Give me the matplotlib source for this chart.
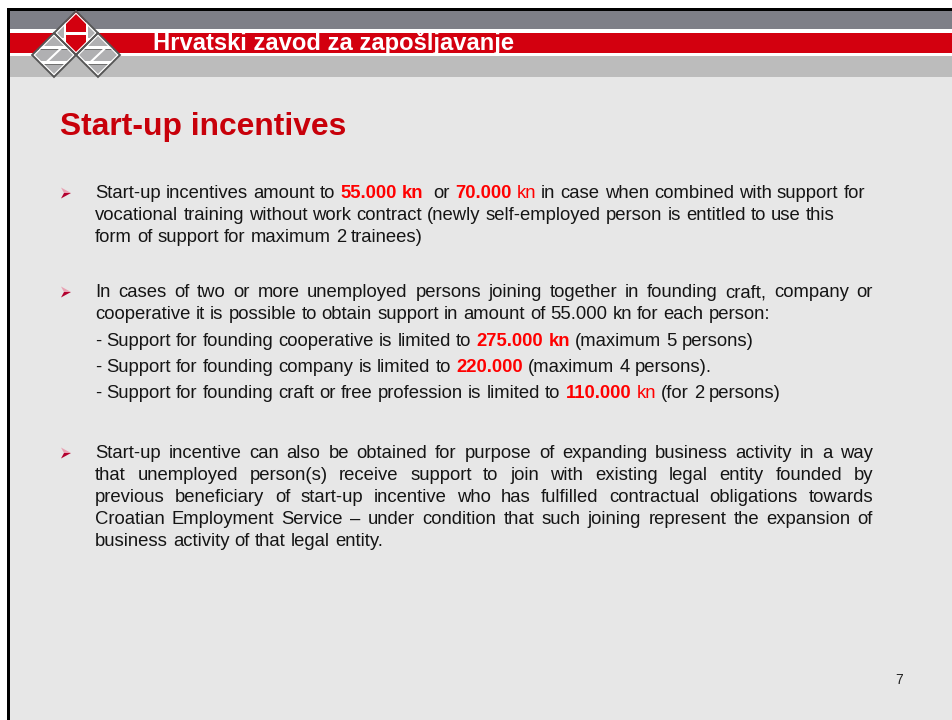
import re
import matplotlib
matplotlib.use("Agg")
import matplotlib.pyplot as plt
from matplotlib.patches import Polygon, Rectangle

# ---------------- content ----------------
header_text = "Hrvatski zavod za zapošljavanje"
title_text = "Start-up incentives"
page_number = "7"

# style codes: "n" normal black, "b" bold red, "r" normal red
bullet1_lines = [
    [("Start-up incentives amount to ", "n"), ("55.000 kn", "b"), ("  or ", "n"),
     ("70.000", "b"), (" kn", "r"), (" in case when combined with support for", "n")],
    [("vocational training without work contract (newly self-employed person is entitled to use this", "n")],
    [("form of support for maximum 2 trainees)", "n")],
]
bullet2_lines = [
    [("In cases of two or more unemployed persons joining together in founding craft, company or", "n")],
    [("cooperative it is possible to obtain support in amount of 55.000 kn for each person:", "n")],
]
bullet2_sub_lines = [
    [("- Support for founding cooperative is limited to ", "n"), ("275.000 kn", "b"),
     (" (maximum 5 persons)", "n")],
    [("- Support for founding company is limited to ", "n"), ("220.000", "b"),
     (" (maximum 4 persons).", "n")],
    [("- Support for founding craft or free profession is limited to ", "n"), ("110.000", "b"),
     (" kn", "r"), (" (for 2 persons)", "n")],
]
bullet3_lines = [
    [("Start-up incentive can also be obtained for purpose of expanding business activity in a way", "n")],
    [("that unemployed person(s) receive support to join with existing legal entity founded by", "n")],
    [("previous beneficiary of start-up incentive who has fulfilled contractual obligations towards", "n")],
    [("Croatian Employment Service \u2013 under condition that such joining represent the expansion of", "n")],
    [("business activity of that legal entity.", "n")],
]

# ---------------- figure ----------------
W, H = 952, 720
fig = plt.figure(figsize=(W / 100, H / 100), dpi=100)
fig.patch.set_facecolor("white")
ax = fig.add_axes([0, 0, 1, 1])
ax.set_xlim(0, W)
ax.set_ylim(H, 0)
ax.axis("off")

FONT = "Liberation Sans"
BLACK = "#151515"
RED = "#ff0000"

# slide background + border
ax.add_patch(Rectangle((7, 8), W - 7, H - 8, facecolor="black", edgecolor="none", zorder=0))
ax.add_patch(Rectangle((10, 11), W - 10, H - 11, facecolor="#e7e7e7", edgecolor="none", zorder=1))
# header bands
ax.add_patch(Rectangle((10, 11), W - 10, 18, facecolor="#7e7f87", edgecolor="none", zorder=2))
ax.add_patch(Rectangle((10, 29), W - 10, 3.5, facecolor="white", edgecolor="none", zorder=2))
ax.add_patch(Rectangle((10, 32.5), W - 10, 20, facecolor="#d3000f", edgecolor="none", zorder=2))
ax.add_patch(Rectangle((10, 52.5), W - 10, 3, facecolor="white", edgecolor="none", zorder=2))
ax.add_patch(Rectangle((10, 55.5), W - 10, 21.5, facecolor="#bcbcbc", edgecolor="none", zorder=2))


# ---------------- logo ----------------
def diamond(cx, cy, h):
    return [(cx, cy - h), (cx + h, cy), (cx, cy + h), (cx - h, cy)]


def clipped_poly(pts, clip, color, z):
    p = Polygon(pts, closed=True, facecolor=color, edgecolor="none", zorder=z)
    ax.add_patch(p)
    p.set_clip_path(clip)


h = 22
centers = [(76, 33), (54, 55), (98, 55)]
for i, (cx, cy) in enumerate(centers):
    base = Polygon(diamond(cx, cy, h), closed=True, facecolor="#b0b0b2",
                   edgecolor="none", zorder=5)
    ax.add_patch(base)
    if i == 0:
        # H on red
        clipped_poly([(cx - 10, cy - h), (cx + 10, cy - h), (cx + 10, cy + h), (cx - 10, cy + h)],
                     base, "#d3000f", 6)
        for dx in (-12, 10):
            clipped_poly([(cx + dx, cy - h), (cx + dx + 2, cy - h), (cx + dx + 2, cy + h), (cx + dx, cy + h)],
                         base, "white", 7)
        clipped_poly([(cx - 10, cy - 1.5), (cx + 10, cy - 1.5), (cx + 10, cy + 1.5), (cx - 10, cy + 1.5)],
                     base, "white", 7)
        clipped_poly([(cx - h, cy + 5), (cx - 12, cy + 5), (cx - 12, cy + 7), (cx - h, cy + 7)],
                     base, "white", 7)
        clipped_poly([(cx + 12, cy + 5), (cx + h, cy + 5), (cx + h, cy + 7), (cx + 12, cy + 7)],
                     base, "white", 7)
    else:
        # Z in white with a darker shadow line
        clipped_poly([(cx - h, cy - 9), (cx + h, cy - 9), (cx + h, cy - 6.5), (cx - h, cy - 6.5)],
                     base, "white", 7)
        clipped_poly([(cx - h, cy - 6.5), (cx + h, cy - 6.5), (cx + h, cy - 5.5), (cx - h, cy - 5.5)],
                     base, "#707070", 7)
        clipped_poly([(cx - h, cy + 6), (cx + h, cy + 6), (cx + h, cy + 8.5), (cx - h, cy + 8.5)],
                     base, "white", 7)
        clipped_poly([(cx - h, cy + 8.5), (cx + h, cy + 8.5), (cx + h, cy + 9.5), (cx - h, cy + 9.5)],
                     base, "#707070", 7)
        clipped_poly([(cx + 8, cy - 9), (cx + 11, cy - 9), (cx - 8, cy + 9), (cx - 11, cy + 9)],
                     base, "white", 7)
    ax.add_patch(Polygon(diamond(cx, cy, h - 2.2), closed=True, facecolor="none",
                         edgecolor="white", linewidth=0.9, zorder=8))
    ax.add_patch(Polygon(diamond(cx, cy, h), closed=True, facecolor="none",
                         edgecolor="#555555", linewidth=1.3, zorder=8))

# ---------------- text helpers ----------------
fig.canvas.draw()
renderer = fig.canvas.get_renderer()
_cache = {}


def text_width(s, size, bold):
    key = (s, size, bold)
    if key not in _cache:
        t = ax.text(0, 0, s, fontsize=size, family=FONT,
                    fontweight="bold" if bold else "normal")
        _cache[key] = t.get_window_extent(renderer).width
        t.remove()
    return _cache[key]


def advance(s, size, bold):
    """Horizontal advance of s including trailing spaces."""
    if not s:
        return 0.0
    return text_width(s + "|", size, bold) - text_width("|", size, bold)


def space_width(size, bold):
    return text_width("x x", size, bold) - text_width("xx", size, bold)


def fit_size(s, target, bold, ref=13.0):
    return ref * target / text_width(s, ref, bold)


STYLE = {"n": (BLACK, False), "b": (RED, True), "r": (RED, False)}


def put_word(x, y, w, st, size):
    color, bold = STYLE[st]
    ax.text(x, y, w, fontsize=size, family=FONT, color=color,
            fontweight="bold" if bold else "normal", va="baseline", ha="left", zorder=10)


def draw_ragged(segments, x0, y, size):
    seg_x = x0
    for txt, st in segments:
        bold = STYLE[st][1]
        for m in re.finditer(r"\S+", txt):
            put_word(seg_x + advance(txt[:m.start()], size, bold), y, m.group(), st, size)
        seg_x += advance(txt, size, bold)


def draw_justified(segments, x0, y, size, x1):
    toks = []
    for txt, st in segments:
        for m in re.finditer(r"\S+", txt):
            toks.append((m.group(), st))
    bold = [STYLE[st][1] for _, st in toks]
    widths = [text_width(w, size, b) for (w, _), b in zip(toks, bold)]
    gap = (x1 - x0 - sum(widths)) / (len(toks) - 1)
    x = x0
    for (w, st), wd in zip(toks, widths):
        put_word(x, y, w, st, size)
        x += wd + gap


def bullet(x, yc):
    ax.add_patch(Polygon([(x, yc - 5.5), (x + 10, yc), (x + 3, yc)], closed=True,
                         facecolor="#e9a2b3", edgecolor="none", zorder=10))
    ax.add_patch(Polygon([(x, yc + 5.5), (x + 10, yc), (x + 3, yc)], closed=True,
                         facecolor="#b3002e", edgecolor="none", zorder=10))


# ---------------- header + title ----------------
hsize = fit_size(header_text, 359, True)
ax.text(153, 50, header_text, fontsize=hsize, family=FONT, fontweight="bold",
        color="white", va="baseline", ha="left", zorder=10)

tsize = fit_size(title_text, 285, True)
ax.text(60, 135, title_text, fontsize=tsize, family=FONT, fontweight="bold",
        color="#c8000a", va="baseline", ha="left", zorder=10)

# ---------------- body ----------------
bsize = fit_size(bullet1_lines[1][0][0], 743, False)
LX, RX, BX = 95, 873, 61


def paragraph(lines, y, step, justify):
    for i, seg in enumerate(lines):
        if justify and i < len(lines) - 1:
            draw_justified(seg, LX, y, bsize, RX)
        else:
            draw_ragged(seg, LX, y, bsize)
        y += step


bullet(BX, 198 - 5)
paragraph(bullet1_lines, 198, 22, False)

bullet(BX, 297 - 5)
paragraph(bullet2_lines, 297, 22, True)
paragraph(bullet2_sub_lines, 346, 26, False)

bullet(BX, 458 - 5)
paragraph(bullet3_lines, 458, 22, True)

ax.text(899, 684, page_number, fontsize=10, family=FONT, color="#222222",
        va="baseline", ha="center", zorder=10)

fig.savefig("out.png", dpi=100, facecolor="white")
